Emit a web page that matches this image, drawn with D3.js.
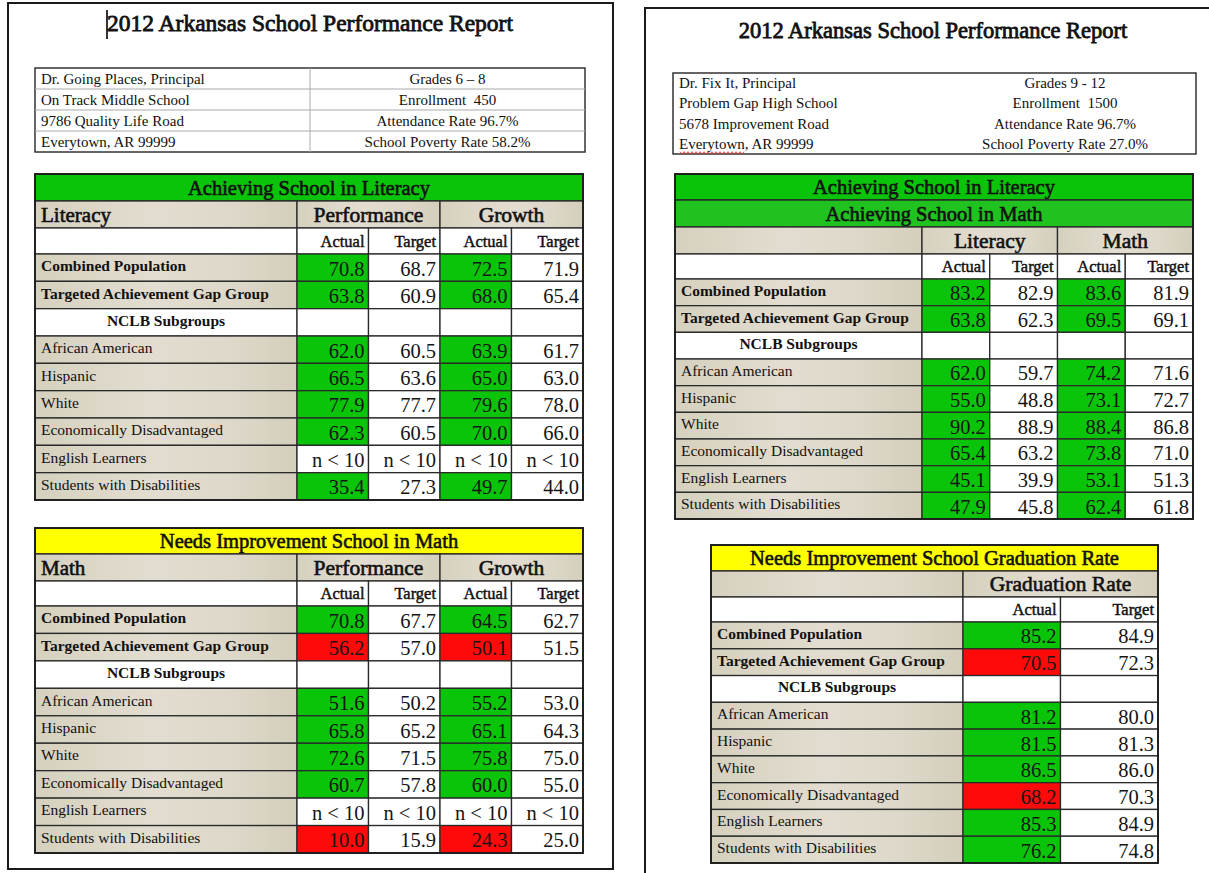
<!DOCTYPE html>
<html>
<head>
<meta charset="utf-8">
<script src="https://cdn.jsdelivr.net/npm/d3@7"></script>
<style>
  html, body { margin: 0; padding: 0; background: #fff; }
  svg { display: block; }
  svg text { white-space: pre; }
</style>
</head>
<body>
<svg id="chart" width="1209" height="873"></svg>
<script>
// ---------------- DATA ----------------
const reportTitle = "2012 Arkansas School Performance Report";

const msInfoLeft  = ["Dr. Going Places, Principal", "On Track Middle School", "9786 Quality Life Road", "Everytown, AR 99999"];
const msInfoRight = ["Grades 6 \u2013 8", "Enrollment  450", "Attendance Rate 96.7%", "School Poverty Rate 58.2%"];
const hsInfoLeft  = ["Dr. Fix It, Principal", "Problem Gap High School", "5678 Improvement Road", "Everytown, AR 99999"];
const hsInfoRight = ["Grades 9 - 12", "Enrollment  1500", "Attendance Rate 96.7%", "School Poverty Rate 27.0%"];

const subgroups = ["Combined Population", "Targeted Achievement Gap Group", "NCLB Subgroups",
  "African American", "Hispanic", "White", "Economically Disadvantaged", "English Learners", "Students with Disabilities"];
const boldRows = ["Combined Population", "Targeted Achievement Gap Group", "NCLB Subgroups"];
const sectionRow = "NCLB Subgroups";
const subHeads = ["Actual", "Target"];
const NA = "n < 10";

// Middle school - Literacy
const litPerfActual = [70.8, 63.8, null, 62.0, 66.5, 77.9, 62.3, NA, 35.4];
const litPerfTarget = [68.7, 60.9, null, 60.5, 63.6, 77.7, 60.5, NA, 27.3];
const litGrowActual = [72.5, 68.0, null, 63.9, 65.0, 79.6, 70.0, NA, 49.7];
const litGrowTarget = [71.9, 65.4, null, 61.7, 63.0, 78.0, 66.0, NA, 44.0];

// Middle school - Math
const mathPerfActual = [70.8, 56.2, null, 51.6, 65.8, 72.6, 60.7, NA, 10.0];
const mathPerfTarget = [67.7, 57.0, null, 50.2, 65.2, 71.5, 57.8, NA, 15.9];
const mathGrowActual = [64.5, 50.1, null, 55.2, 65.1, 75.8, 60.0, NA, 24.3];
const mathGrowTarget = [62.7, 51.5, null, 53.0, 64.3, 75.0, 55.0, NA, 25.0];

// High school - Literacy & Math
const hsLitActual  = [83.2, 63.8, null, 62.0, 55.0, 90.2, 65.4, 45.1, 47.9];
const hsLitTarget  = [82.9, 62.3, null, 59.7, 48.8, 88.9, 63.2, 39.9, 45.8];
const hsMathActual = [83.6, 69.5, null, 74.2, 73.1, 88.4, 73.8, 53.1, 62.4];
const hsMathTarget = [81.9, 69.1, null, 71.6, 72.7, 86.8, 71.0, 51.3, 61.8];

// High school - Graduation rate
const gradActual = [85.2, 70.5, null, 81.2, 81.5, 86.5, 68.2, 85.3, 76.2];
const gradTarget = [84.9, 72.3, null, 80.0, 81.3, 86.0, 70.3, 84.9, 74.8];

// ---------------- STYLE ----------------
const FONT = "'Liberation Serif', 'Times New Roman', serif";
const GREEN = "#0ac40a", GREEN2 = "#1fc21f", RED = "#ff0a0a", YELLOW = "#ffff00";
const LINE = "#2a2a2a";
const fmt = d3.format(".1f");

const svg = d3.select("#chart");
const defs = svg.append("defs");
const grad = defs.append("linearGradient").attr("id", "beige").attr("x1", 0).attr("x2", 1).attr("y1", 0).attr("y2", 0);
[["0%", "#d6d0be"], ["45%", "#e2ddd0"], ["75%", "#ddd8c9"], ["100%", "#d4cebb"]]
  .forEach(([o, c]) => grad.append("stop").attr("offset", o).attr("stop-color", c));
const BEIGE = "url(#beige)";

function text(g, x, y, s, o = {}) {
  const t = g.append("text")
    .attr("x", x).attr("y", y)
    .attr("font-family", FONT)
    .attr("font-size", o.size || 15)
    .attr("font-weight", o.weight || "normal")
    .attr("text-anchor", o.anchor || "start")
    .attr("dominant-baseline", "central")
    .attr("fill", o.fill || "#111")
    .text(s);
  if (o.semi) t.attr("stroke", o.fill || "#111").attr("stroke-width", o.semi);
  return t;
}
function cell(g, x0, y0, x1, y1, fill, sw = 1.3) {
  return g.append("rect").attr("x", x0).attr("y", y0).attr("width", x1 - x0).attr("height", y1 - y0)
    .attr("fill", fill).attr("stroke", LINE).attr("stroke-width", sw);
}

// ---------------- PAGES ----------------
function page(g, x, y, w, h) {
  g.append("rect").attr("x", x).attr("y", y).attr("width", w).attr("height", h)
    .attr("fill", "#fff").attr("stroke", "#1a1a1a").attr("stroke-width", 2);
}

function infoBox(g, x0, y0, x1, y1, xSplit, left, right, innerLines) {
  const rows = d3.scaleBand().domain(d3.range(left.length)).range([y0, y1]);
  g.append("rect").attr("x", x0).attr("y", y0).attr("width", x1 - x0).attr("height", y1 - y0)
    .attr("fill", "#fff").attr("stroke", "#333").attr("stroke-width", 1.5);
  if (innerLines) {
    left.forEach((_, i) => {
      if (i > 0) g.append("line").attr("x1", x0).attr("x2", x1).attr("y1", rows(i)).attr("y2", rows(i))
        .attr("stroke", "#aaa").attr("stroke-width", 1);
    });
    g.append("line").attr("x1", xSplit).attr("x2", xSplit).attr("y1", y0).attr("y2", y1)
      .attr("stroke", "#aaa").attr("stroke-width", 1);
  }
  left.forEach((s, i) => text(g, x0 + 6, rows(i) + rows.bandwidth() / 2, s, { size: 15 }));
  right.forEach((s, i) => text(g, (xSplit + x1) / 2, rows(i) + rows.bandwidth() / 2, s, { size: 15, anchor: "middle" }));
  return rows;
}

function drawTable(g, c) {
  const { x0, xl, x1 } = c;
  // title bars
  c.titles.forEach(t => {
    cell(g, x0, t.y0, x1, t.y1, t.fill, 1.5);
    text(g, (x0 + x1) / 2, (t.y0 + t.y1) / 2, t.text, { size: 20.5, semi: 0.6, anchor: "middle" });
  });
  const colKeys = d3.range(c.cols.length);
  const xCol = d3.scaleBand().domain(colKeys).range([xl, x1]);
  const bw = xCol.bandwidth();
  // header row
  cell(g, x0, c.hy0, xl, c.hy1, BEIGE);
  if (c.headLabel) text(g, x0 + 6, (c.hy0 + c.hy1) / 2, c.headLabel, { size: 21, semi: 0.6 });
  c.groups.forEach((name, k) => {
    const gx0 = xCol(k * 2), gx1 = xCol(k * 2 + 1) + bw;
    cell(g, gx0, c.hy0, gx1, c.hy1, BEIGE);
    text(g, (gx0 + gx1) / 2, (c.hy0 + c.hy1) / 2, name, { size: 21.5, semi: 0.6, anchor: "middle" });
  });
  // sub header row
  cell(g, x0, c.sy0, xl, c.sy1, "#fff");
  colKeys.forEach(j => {
    cell(g, xCol(j), c.sy0, xCol(j) + bw, c.sy1, "#fff");
    text(g, xCol(j) + bw - 4, (c.sy0 + c.sy1) / 2, subHeads[j % 2], { size: 16.5, semi: 0.45, anchor: "end" });
  });
  // body
  const yRow = d3.scaleBand().domain(d3.range(subgroups.length)).range([c.by0, c.by1]);
  const rh = yRow.bandwidth();
  subgroups.forEach((lab, i) => {
    const y = yRow(i), yc = y + rh / 2;
    const isSection = lab === sectionRow;
    cell(g, x0, y, xl, y + rh, isSection ? "#fff" : BEIGE);
    text(g, isSection ? (x0 + xl) / 2 : x0 + 6, yc - 2, lab, {
      size: 15.5, weight: boldRows.includes(lab) ? "bold" : "normal", anchor: isSection ? "middle" : "start"
    });
    colKeys.forEach(j => {
      const v = c.cols[j][i];
      let fill = "#fff";
      if (j % 2 === 0 && typeof v === "number") {
        const tgt = c.cols[j + 1][i];
        fill = v >= tgt ? GREEN : RED;
      }
      cell(g, xCol(j), y, xCol(j) + bw, y + rh, fill);
      if (v !== null && v !== undefined) {
        text(g, xCol(j) + bw - 4, yc + 1, typeof v === "number" ? fmt(v) : v,
          { size: 20.5, anchor: "end", fill: "#151515" });
      }
    });
  });
  // outer border
  g.append("rect").attr("x", x0).attr("y", c.titles[0].y0).attr("width", x1 - x0).attr("height", c.by1 - c.titles[0].y0)
    .attr("fill", "none").attr("stroke", "#1a1a1a").attr("stroke-width", 1.8);
}

// ---------- Left page (middle school) ----------
const L = svg.append("g");
page(L, 8, 3, 605, 866);
text(L, 310, 23, reportTitle, { size: 23.5, semi: 0.8, anchor: "middle" });
L.append("line").attr("x1", 107).attr("x2", 107).attr("y1", 10).attr("y2", 39).attr("stroke", "#000").attr("stroke-width", 1.6);
infoBox(L, 35, 68, 585, 152, 310, msInfoLeft, msInfoRight, true);

drawTable(L, {
  x0: 35, xl: 297, x1: 583,
  titles: [{ text: "Achieving School in Literacy", fill: GREEN, y0: 174, y1: 201 }],
  headLabel: "Literacy", groups: ["Performance", "Growth"],
  hy0: 201, hy1: 228, sy0: 228, sy1: 254, by0: 254, by1: 500,
  cols: [litPerfActual, litPerfTarget, litGrowActual, litGrowTarget]
});
drawTable(L, {
  x0: 35, xl: 297, x1: 583,
  titles: [{ text: "Needs Improvement School in Math", fill: YELLOW, y0: 528, y1: 554 }],
  headLabel: "Math", groups: ["Performance", "Growth"],
  hy0: 554, hy1: 581, sy0: 581, sy1: 606, by0: 606, by1: 853,
  cols: [mathPerfActual, mathPerfTarget, mathGrowActual, mathGrowTarget]
});

// ---------- Right page (high school) ----------
const R = svg.append("g");
page(R, 645, 8, 600, 880);
text(R, 933, 30, reportTitle, { size: 22.5, semi: 0.8, anchor: "middle" });
const hsRows = infoBox(R, 673, 73, 1196, 154, 934, hsInfoLeft, hsInfoRight, false);
// spell-check squiggle under "Everytown"
{
  const yq = hsRows(3) + hsRows.bandwidth() / 2 + 9;
  const pts = d3.range(680, 746, 2).map((x, k) => [x, yq + (k % 2 ? 1.2 : -1.2)]);
  R.append("path").attr("d", d3.line()(pts)).attr("fill", "none").attr("stroke", "#e03030").attr("stroke-width", 0.9);
}

drawTable(R, {
  x0: 675, xl: 922, x1: 1193,
  titles: [
    { text: "Achieving School in Literacy", fill: GREEN, y0: 174, y1: 200 },
    { text: "Achieving School in Math", fill: GREEN2, y0: 200, y1: 227 }
  ],
  headLabel: "", groups: ["Literacy", "Math"],
  hy0: 227, hy1: 254, sy0: 254, sy1: 279, by0: 279, by1: 519,
  cols: [hsLitActual, hsLitTarget, hsMathActual, hsMathTarget]
});
drawTable(R, {
  x0: 711, xl: 963, x1: 1158,
  titles: [{ text: "Needs Improvement School Graduation Rate", fill: YELLOW, y0: 545, y1: 571 }],
  headLabel: "", groups: ["Graduation Rate"],
  hy0: 571, hy1: 597, sy0: 597, sy1: 622, by0: 622, by1: 863,
  cols: [gradActual, gradTarget]
});
</script>
</body>
</html>
